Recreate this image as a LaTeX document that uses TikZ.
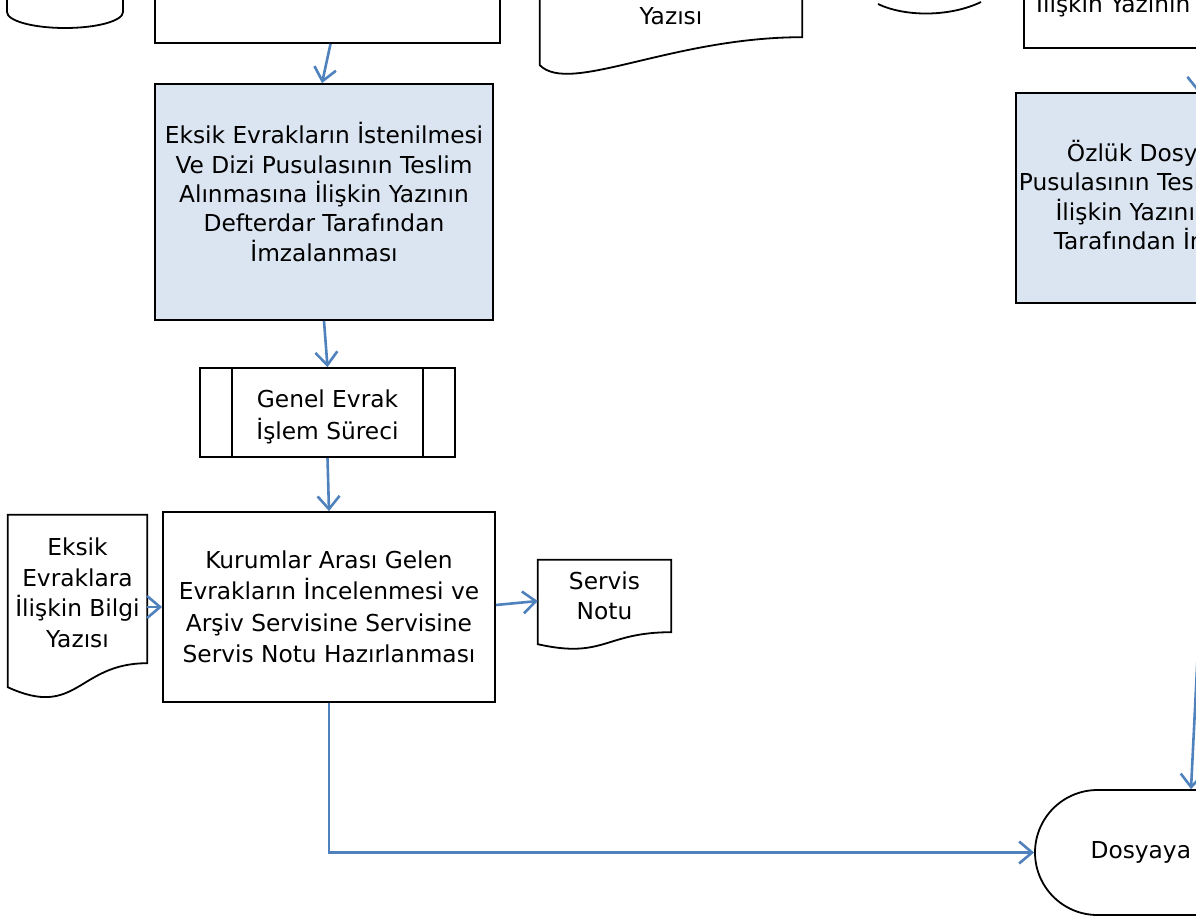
\documentclass[tikz,border=0pt]{standalone}
\usepackage{fontspec}
\setmainfont{DejaVu Sans}
\usetikzlibrary{arrows.meta}
\usetikzlibrary{calc}
\definecolor{flowblue}{RGB}{79,129,189}
\definecolor{boxblue}{RGB}{219,229,241}
\tikzset{>={Straight Barb[length=13pt,width=22pt]}}
\tikzset{
  txt/.style={align=center, inner sep=0pt, font=\fontsize{23.3}{30.5}\selectfont},
  box/.style={txt, draw, line width=1.8pt, rectangle},
  docbox/.style={txt, rectangle},
  outline/.style={line width=1.8pt},
  flow/.style={->, draw=flowblue, line width=2.6pt},
}
\begin{document}
\begin{tikzpicture}[x=1pt, y=-1pt]
  \useasboundingbox (0,0) rectangle (1196,922);
  % top row, cut off
  \draw[outline] (7,-10) -- (7,12) arc[start angle=180, end angle=0, x radius=58, y radius=16] -- (123,-10);
  \draw[outline] (878,4) .. controls (905,17) and (950,17) .. (981,2);
  \node[box, minimum width=345pt, minimum height=146pt] (topbox) at (327.5,-30) {};
  \node[docbox, minimum width=262pt, minimum height=170pt] (topdoc) at (671,-48) {};
  \draw[outline] (topdoc.south west) -- (topdoc.north west) -- (topdoc.north east) -- (topdoc.south east)
    .. controls (topdoc.south) and ($(topdoc.south west)+(30,58)$) .. ($(topdoc.south west)+(0,28)$) -- cycle;
  \node[txt, anchor=base] at (671,24) {Yazısı};
  \node[box, minimum width=360pt, minimum height=156pt] (rightbox) at (1204,-30) {};
  \node[txt, anchor=base west] at (1036,12) {İlişkin Yazının};
  % main column
  \node[box, fill=boxblue, minimum width=338pt, minimum height=236pt] (sign) at (324,202) {};
  \node[txt, font=\fontsize{23.3}{29.3}\selectfont] (signtext) at ($(sign)+(0,-10)$)
    {Eksik Evrakların İstenilmesi\\Ve Dizi Pusulasının Teslim\\Alınmasına İlişkin Yazının\\Defterdar Tarafından\\İmzalanması};
  \node[box, minimum width=255pt, minimum height=89pt] (genel) at (327.5,412.5) {};
  \node[txt, font=\fontsize{23.3}{32}\selectfont] (geneltext) at ($(genel)+(0,4)$) {Genel Evrak\\İşlem Süreci};
  \draw[outline] ([xshift=33pt]genel.north west) -- ([xshift=33pt]genel.south west);
  \draw[outline] ([xshift=-33pt]genel.north east) -- ([xshift=-33pt]genel.south east);
  \node[box, minimum width=332pt, minimum height=190pt, font=\fontsize{23.3}{31.5}\selectfont] (incele) at (329,607)
    {Kurumlar Arası Gelen\\Evrakların İncelenmesi ve\\Arşiv Servisine Servisine\\Servis Notu Hazırlanması};
  % documents
  \node[docbox, minimum width=139pt, minimum height=148pt] (bilgi) at (77.5,589) {};
  \node[txt] (bilgitext) at ($(bilgi)+(0,4)$) {Eksik\\Evraklara\\İlişkin Bilgi\\Yazısı};
  \draw[outline] (bilgi.south west) -- (bilgi.north west) -- (bilgi.north east) -- (bilgi.south east)
    .. controls (bilgi.south) and ($(bilgi.south)+(0,56)$) .. ($(bilgi.south west)+(0,24)$) -- cycle;
  \node[docbox, minimum width=133pt, minimum height=72pt] (not) at (604.5,596)
    {Servis\\Notu};
  \draw[outline] (not.south west) -- (not.north west) -- (not.north east) -- (not.south east)
    .. controls (not.south) and ($(not.south)+(0,27)$) .. ($(not.south west)+(0,12)$) -- cycle;
  % right column
  \node[box, fill=boxblue, minimum width=376pt, minimum height=210pt] (ozluk) at (1204,198) {};
  \node[txt, font=\fontsize{23.3}{29.3}\selectfont] (ozluktext) at ($(ozluk)+(-12,-3)$)
    {Özlük Dosyası Ve Dizi\\Pusulasının Teslim Alınmasına\\İlişkin Yazının Defterdar\\Tarafından İmzalanması};
  \node[box, rounded corners=62.5pt, minimum width=338pt, minimum height=125pt] (dosya) at (1204,852.5) {};
  \node[txt] (dosyatext) at ($(dosya)+(-8,0)$) {Dosyaya Kaldırma};
  % arrows
  \draw[flow] ([xshift=3pt]topbox.south) -- ([xshift=-2pt]sign.north);
  \draw[flow] (sign.south) -- (genel.north);
  \draw[flow] (genel.south) -- (incele.north);
  \draw[flow] (bilgi.east |- incele.west) -- (incele.west);
  \draw[flow] ([yshift=2pt]incele.east) -- ([yshift=-5pt]not.west);
  \draw[flow] (incele.south) |- (dosya.west);
  \draw[flow] ([xshift=-5pt]rightbox.south) -- ([xshift=-6pt]ozluk.north);
  \draw[flow] ([xshift=11pt]ozluk.south) -- ([xshift=-13pt]dosya.north);
\end{tikzpicture}
\end{document}
